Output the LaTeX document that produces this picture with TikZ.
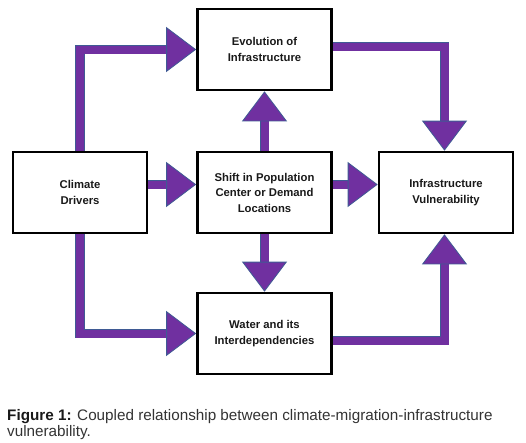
\documentclass[tikz,border=0pt]{standalone}
\usepackage{fontspec}
\setmainfont{Liberation Sans}
\usetikzlibrary{arrows.meta,calc}
\definecolor{arrowfill}{HTML}{7030A0}
\definecolor{arrowline}{HTML}{3F5A94}
\definecolor{captext}{HTML}{333333}
\begin{document}
\begin{tikzpicture}[x=1pt,y=-1pt,
 box/.style={draw=black, line width=2.6pt, minimum width=134pt, minimum height=81pt,
   inner sep=0pt, align=center, text=black!90,
   font=\bfseries\fontsize{11.3}{15.5}\selectfont},
 flow/.style={line width=8pt, draw=arrowfill, line join=miter, line cap=butt,
   -{Triangle[width=45pt,length=30pt,line width=0.8pt,fill=arrowfill,color=arrowline]},
   preaction={draw=arrowline, line width=9.6pt, arrows=-, shorten >=20pt, line join=miter}},
 capstyle/.style={anchor=base west, inner sep=0pt, text=captext, font=\fontsize{15.25}{16}\selectfont}
]
\useasboundingbox (0,0) rectangle (526,442);
\node[box] (evo) at (264.5,49.5) {Evolution of\\Infrastructure};
\node[box] (clim) at (80,192.5) {Climate\\Drivers};
\node[box] (shift) at (264.5,192.5) {Shift in Population\\Center or Demand\\Locations};
\node[box] (vul) at (446,192.5) {Infrastructure\\Vulnerability};
\node[box] (water) at (264.5,333.5) {Water and its\\Interdependencies};

\draw[flow] (clim.north) |- (evo.west);
\draw[flow] ([yshift=8pt]clim.east) -- ([yshift=8pt]shift.west);
\draw[flow] (shift.north) -- (evo.south);
\draw[flow] ([yshift=3pt]evo.east) -| ([xshift=-1.5pt]vul.north);
\draw[flow] ([yshift=8pt]shift.east) -- ([yshift=8pt]vul.west);
\draw[flow] (clim.south) |- (water.west);
\draw[flow] (shift.south) -- (water.north);
\draw[flow] ([yshift=-7pt]water.east) -| ([xshift=-1.5pt]vul.south);

\node[capstyle] (cap1) at (7,420) {\textcolor{black!90}{\textbf{Figure 1:}} Coupled relationship between climate-migration-infrastructure};
\node[capstyle] (cap2) at (7,436) {vulnerability.};
\end{tikzpicture}
\end{document}
